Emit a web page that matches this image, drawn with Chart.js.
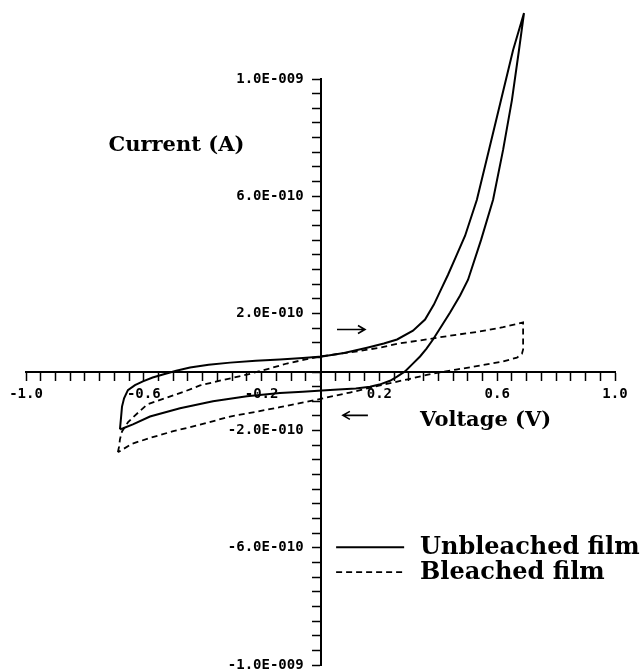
<!DOCTYPE html>
<html>
<head>
<meta charset="utf-8">
<script src="https://cdn.jsdelivr.net/npm/chart.js@4/dist/chart.umd.min.js"></script>
<style>
  html, body { margin: 0; padding: 0; background: #fff; overflow: hidden; }
  #chart { display: block; }
</style>
</head>
<body>
<canvas id="chart" width="643" height="672"></canvas>
<script>
// Cyclic voltammograms, current in units of 1e-10 A, voltage in V.
// Each loop: forward sweep (upper branch) then reverse sweep (lower branch).
const unbleachedV = [
  -0.681, -0.677, -0.674, -0.667, -0.654, -0.630, -0.603, -0.570, -0.535, -0.490,
  -0.443, -0.380, -0.307, -0.220, -0.138, -0.060, 0.005, 0.080, 0.158, 0.215,
  0.260, 0.314, 0.355, 0.385, 0.409, 0.433, 0.460, 0.491, 0.531, 0.572,
  0.613, 0.654, 0.691,
  0.674, 0.650, 0.620, 0.586, 0.545, 0.501, 0.474, 0.440, 0.410, 0.382,
  0.360, 0.338, 0.312, 0.287, 0.260, 0.236, 0.200, 0.168, 0.120, 0.060,
  0.005, -0.060, -0.138, -0.250, -0.365, -0.477, -0.579, -0.637, -0.670, -0.681
];
const unbleachedI = [
  -1.96, -1.52, -1.18, -0.90, -0.62, -0.45, -0.32, -0.19, -0.085, 0.04,
  0.15, 0.25, 0.32, 0.38, 0.43, 0.48, 0.53, 0.65, 0.83, 0.97,
  1.11, 1.41, 1.79, 2.30, 2.81, 3.32, 3.94, 4.65, 5.88, 7.58,
  9.28, 10.99, 12.25,
  10.99, 9.28, 7.58, 5.88, 4.50, 3.15, 2.61, 2.03, 1.55, 1.11,
  0.80, 0.53, 0.27, 0.02, -0.16, -0.30, -0.43, -0.50, -0.56, -0.60,
  -0.63, -0.67, -0.72, -0.83, -1.00, -1.24, -1.52, -1.79, -1.92, -1.96
];

const bleachedV = [
  -0.688, -0.684, -0.681, -0.674, -0.654, -0.637, -0.589, -0.521, -0.460, -0.409,
  -0.330, -0.250, -0.180, -0.114, -0.050, 0.000, 0.070, 0.134, 0.200, 0.270,
  0.340, 0.440, 0.540, 0.620, 0.688,
  0.688, 0.688, 0.684, 0.667, 0.620, 0.542, 0.460, 0.382, 0.300, 0.202,
  0.100, 0.008, -0.070, -0.138, -0.220, -0.307, -0.409, -0.500, -0.579, -0.640, -0.688
];
const bleachedI = [
  -2.74, -2.55, -2.30, -2.03, -1.72, -1.55, -1.11, -0.87, -0.66, -0.46,
  -0.27, -0.09, 0.10, 0.29, 0.43, 0.53, 0.63, 0.72, 0.83, 0.98,
  1.08, 1.24, 1.38, 1.53, 1.69,
  1.20, 0.77, 0.62, 0.49, 0.36, 0.22, 0.08, -0.05, -0.24, -0.46,
  -0.70, -0.90, -1.06, -1.20, -1.36, -1.52, -1.80, -2.02, -2.25, -2.45, -2.74
];

const seriesLabels = ['Unbleached film', 'Bleached film'];
const xTitle = 'Voltage (V)';
const yTitle = 'Current (A)';

// axis range and tick spacing (ticks every 0.05 V / 0.5e-10 A, a label on every 8th)
const xRange = [-1, 1];
const yRange = [-10, 10];
const xStep = 0.05;
const yStep = 0.5;
const labelEvery = 8;

function zip(xs, ys) {
  return xs.map((v, i) => ({ x: v, y: ys[i] }));
}

// 6 (x1e-10 A) -> "6.0E-010"
function sciLabel(v) {
  const a = v * 1e-10;
  const e = Math.floor(Math.log10(Math.abs(a)) + 1e-9);
  const m = a / Math.pow(10, e);
  const sign = e < 0 ? '-' : '+';
  return m.toFixed(1) + 'E' + sign + String(Math.abs(e)).padStart(3, '0');
}

const tickFont = { family: 'DejaVu Sans Mono', weight: 'bold', size: 14, lineHeight: 1 };

const annotate = {
  id: 'annotate',
  afterDraw(chart) {
    const { ctx, scales: { x, y } } = chart;
    ctx.save();
    ctx.fillStyle = '#000';
    ctx.strokeStyle = '#000';
    ctx.textBaseline = 'alphabetic';
    ctx.textAlign = 'left';

    // axis titles
    ctx.font = 'bold 21px "DejaVu Serif"';
    ctx.fillText(yTitle, x.getPixelForValue(-0.72), y.getPixelForValue(7.55));
    ctx.fillText(xTitle, x.getPixelForValue(0.338), y.getPixelForValue(-1.86));

    // sweep direction arrows
    function arrow(v0, v1, i) {
      const x0 = x.getPixelForValue(v0), x1 = x.getPixelForValue(v1), yy = y.getPixelForValue(i);
      const d = Math.sign(x1 - x0);
      ctx.lineWidth = 1.6;
      ctx.beginPath();
      ctx.moveTo(x0, yy); ctx.lineTo(x1, yy);
      ctx.moveTo(x1 - d * 7, yy - 4); ctx.lineTo(x1, yy); ctx.lineTo(x1 - d * 7, yy + 4);
      ctx.stroke();
    }
    arrow(0.056, 0.151, 1.45);
    arrow(0.161, 0.076, -1.48);

    // legend
    ctx.font = 'bold 24px "DejaVu Serif"';
    const rows = [-5.98, -6.83];
    chart.data.datasets.forEach((ds, k) => {
      const yy = y.getPixelForValue(rows[k]);
      ctx.lineWidth = ds.borderWidth;
      ctx.setLineDash(ds.borderDash || []);
      ctx.beginPath();
      ctx.moveTo(x.getPixelForValue(0.053), yy);
      ctx.lineTo(x.getPixelForValue(0.284), yy);
      ctx.stroke();
      ctx.setLineDash([]);
      ctx.fillText(ds.label, x.getPixelForValue(0.338), yy + 7);
    });
    ctx.restore();
  }
};

new Chart(document.getElementById('chart'), {
  type: 'scatter',
  data: {
    datasets: [
      {
        label: seriesLabels[0],
        data: zip(unbleachedV, unbleachedI),
        showLine: true,
        borderColor: '#000',
        borderWidth: 2,
        pointRadius: 0,
        tension: 0,
        clip: false,
      },
      {
        label: seriesLabels[1],
        data: zip(bleachedV, bleachedI),
        showLine: true,
        borderColor: '#000',
        borderWidth: 1.8,
        borderDash: [6, 4],
        pointRadius: 0,
        tension: 0,
        clip: false,
      },
    ],
  },
  options: {
    responsive: false,
    animation: false,
    devicePixelRatio: 1,
    layout: { padding: { left: 26, right: 28, top: 79, bottom: 6 } },
    plugins: {
      legend: { display: false },
      tooltip: { enabled: false },
    },
    scales: {
      x: {
        type: 'linear',
        position: { y: 0 },
        min: xRange[0],
        max: xRange[1],
        ticks: {
          stepSize: xStep,
          autoSkip: false,
          maxRotation: 0,
          color: '#000',
          font: tickFont,
          padding: 7,
          callback: (v, i) => (i % labelEvery === 0 ? v.toFixed(1) : ''),
        },
        grid: { drawOnChartArea: false, drawTicks: true, tickLength: 8, tickColor: '#000', tickWidth: 1.5 },
        border: { display: true, color: '#000', width: 2 },
      },
      y: {
        type: 'linear',
        position: { x: 0 },
        min: yRange[0],
        max: yRange[1],
        ticks: {
          stepSize: yStep,
          autoSkip: false,
          color: '#000',
          font: tickFont,
          padding: 0,
          // labels sit right-aligned on the axis line; trailing spaces keep them clear of the ticks
          callback: (v, i) => (i % labelEvery === 0 ? sciLabel(v) + '  ' : ''),
        },
        grid: { drawOnChartArea: false, drawTicks: true, tickLength: 8, tickColor: '#000', tickWidth: 1.5 },
        border: { display: true, color: '#000', width: 2 },
      },
    },
  },
  plugins: [annotate],
});
</script>
</body>
</html>
